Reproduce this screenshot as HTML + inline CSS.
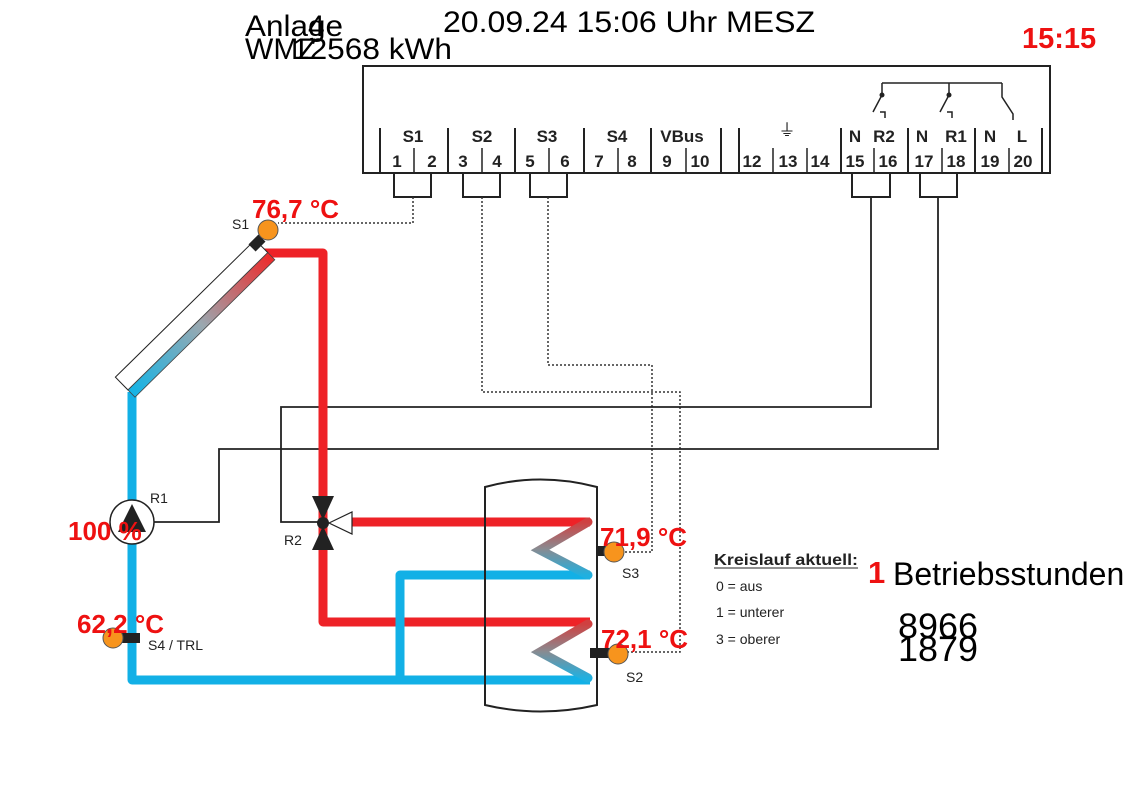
<!DOCTYPE html>
<html><head><meta charset="utf-8"><style>
body{margin:0;background:#fff;width:1124px;height:785px;overflow:hidden}
svg{display:block}
text{font-family:"Liberation Sans",sans-serif}
.r{fill:#ee1111;font-weight:bold;font-size:26px}
.t{font-size:17px;font-weight:bold;fill:#222}
.s{font-size:14px;fill:#222}
</style></head><body>
<svg width="1124" height="785" viewBox="0 0 1124 785">
<defs>
<linearGradient id="col" x1="0" y1="0" x2="1" y2="0">
<stop offset="0" stop-color="#13b4e6"/><stop offset="0.5" stop-color="#9aa8b0"/><stop offset="1" stop-color="#ee2a2a"/></linearGradient>
<linearGradient id="coil" x1="0" y1="0" x2="0" y2="1">
<stop offset="0" stop-color="#d04040"/><stop offset="0.5" stop-color="#8a8a90"/><stop offset="1" stop-color="#20b0e0"/></linearGradient>
</defs>
<text x="245" y="36" font-size="30" textLength="98" lengthAdjust="spacingAndGlyphs">Anlage</text>
<text x="308" y="36" font-size="30">4</text>
<text x="245" y="59" font-size="30">WMZ</text>
<text x="292" y="59" font-size="30" textLength="160" lengthAdjust="spacingAndGlyphs">12568 kWh</text>
<text x="443" y="32" font-size="30" textLength="372" lengthAdjust="spacingAndGlyphs">20.09.24 15:06 Uhr MESZ</text>
<text x="1022" y="48" font-size="29" font-weight="bold" fill="#ee1111">15:15</text>
<g stroke="#222" fill="none" stroke-width="2">
<rect x="363" y="66" width="687" height="107"/>
<path d="M380 128V172M448 128V172M515 128V172M584 128V172M651 128V172M721 128V172M739 128V172M841 128V172M908 128V172M975 128V172M1042 128V172"/>
<path d="M414 148V172M482 148V172M549 148V172M618 148V172M686 148V172M773 148V172M807 148V172M874 148V172M942 148V172M1009 148V172" stroke-width="1.5"/>
<path d="M882 83H1002M882 83V95L873 112M880 112H885V118M949 83V95L940 112M947 112H952V118M1002 83V97L1013 114V120" stroke-width="1.5"/>
<path d="M394 173V197H431V173M463 173V197H500V173M530 173V197H567V173M852 173V197H890V173M920 173V197H957V173"/>
</g>
<circle cx="882" cy="95" r="2.5" fill="#222"/><circle cx="949" cy="95" r="2.5" fill="#222"/>
<g class="t" text-anchor="middle">
<text x="413" y="142">S1</text><text x="482" y="142">S2</text><text x="547" y="142">S3</text><text x="617" y="142">S4</text><text x="682" y="142">VBus</text>
<text x="787" y="136" font-weight="normal">⏚</text>
<text x="855" y="142">N</text><text x="884" y="142">R2</text><text x="922" y="142">N</text><text x="956" y="142">R1</text><text x="990" y="142">N</text><text x="1022" y="142">L</text>
<text x="397" y="167">1</text><text x="432" y="167">2</text><text x="463" y="167">3</text><text x="497" y="167">4</text><text x="530" y="167">5</text><text x="565" y="167">6</text><text x="599" y="167">7</text><text x="632" y="167">8</text><text x="667" y="167">9</text><text x="700" y="167">10</text>
<text x="752" y="167">12</text><text x="788" y="167">13</text><text x="820" y="167">14</text><text x="855" y="167">15</text><text x="888" y="167">16</text><text x="924" y="167">17</text><text x="956" y="167">18</text><text x="990" y="167">19</text><text x="1023" y="167">20</text>
</g>
<g stroke="#333" fill="none" stroke-width="1.5" stroke-dasharray="2,2">
<path d="M413 197V223H278"/>
<path d="M482 197V392H680V652H625"/>
<path d="M548 197V365H652V552H625"/>
</g>
<g stroke="#222" fill="none" stroke-width="1.8">
<path d="M871 197V407H281V522H322"/>
<path d="M938 197V449H219V522H154"/>
</g>
<g fill="none" stroke-width="9" stroke-linejoin="round">
<path d="M262 253H323V622H590" stroke="#ee2227"/>
<path d="M350 522H590" stroke="#ee2227"/>
<path d="M132 392V680H590" stroke="#12b0e6"/>
<path d="M400 680V575H590" stroke="#12b0e6"/>
</g>
<path d="M485 487Q540 472 597 487V705Q540 718 485 705Z" fill="none" stroke="#222" stroke-width="2"/>
<g fill="none" stroke="url(#coil)" stroke-width="9" stroke-linecap="round">
<path d="M588 522L540 550L588 575"/>
<path d="M588 624L540 652L588 678"/>
</g>
<g transform="translate(128,390) rotate(-44.5)">
<rect x="0" y="-18" width="196" height="18" fill="#fff" stroke="#222" stroke-width="1"/>
<rect x="0" y="0" width="196" height="10" fill="url(#col)" stroke="#444" stroke-width="0.8"/>
</g>
<rect x="252" y="236" width="10" height="14" fill="#222" transform="rotate(45 257 243)"/>
<circle cx="132" cy="522" r="22" fill="#fff" stroke="#222" stroke-width="1.5"/>
<polygon points="132,504 118,532 146,532" fill="#222"/>
<text x="150" y="503" class="s" font-size="16">R1</text>
<polygon points="312,496 334,496 323,520" fill="#222"/>
<polygon points="312,550 334,550 323,526" fill="#222"/>
<circle cx="323" cy="523" r="6" fill="#222"/>
<polygon points="329,523 352,512 352,534" fill="#fff" stroke="#222" stroke-width="1.2"/>
<text x="284" y="545" class="s" font-size="16">R2</text>
<rect x="598" y="546" width="16" height="10" fill="#222"/>
<rect x="590" y="648" width="22" height="10" fill="#222"/>
<rect x="118" y="633" width="22" height="10" fill="#222"/>
<g fill="#f7941d" stroke="#555" stroke-width="1">
<circle cx="268" cy="230" r="10"/>
<circle cx="614" cy="552" r="10"/>
<circle cx="618" cy="654" r="10"/>
<circle cx="113" cy="638" r="10"/>
</g>
<text x="232" y="229" class="s" font-size="15">S1</text>
<text x="622" y="578" class="s" font-size="15">S3</text>
<text x="626" y="682" class="s" font-size="15">S2</text>
<text x="148" y="650" class="s" font-size="15">S4 / TRL</text>
<text x="252" y="218" class="r">76,7 °C</text>
<text x="600" y="546" class="r">71,9 °C</text>
<text x="601" y="648" class="r">72,1 °C</text>
<text x="77" y="633" class="r">62,2 °C</text>
<text x="68" y="540" class="r">100 %</text>
<text x="714" y="565" font-size="16" font-weight="bold" fill="#222" textLength="144" lengthAdjust="spacingAndGlyphs">Kreislauf aktuell:</text>
<line x1="714" y1="568" x2="858" y2="568" stroke="#222" stroke-width="1"/>
<text x="716" y="591" class="s" font-size="17">0 = aus</text>
<text x="716" y="617" class="s" font-size="17">1 = unterer</text>
<text x="716" y="644" class="s" font-size="17">3 = oberer</text>
<text x="868" y="583" font-size="31" font-weight="bold" fill="#ee1111">1</text>
<text x="893" y="585" font-size="32">Betriebsstunden</text>
<text x="898" y="638" font-size="35" textLength="80" lengthAdjust="spacingAndGlyphs">8966</text>
<text x="898" y="661" font-size="35" textLength="80" lengthAdjust="spacingAndGlyphs">1879</text>
</svg>
</body></html>
